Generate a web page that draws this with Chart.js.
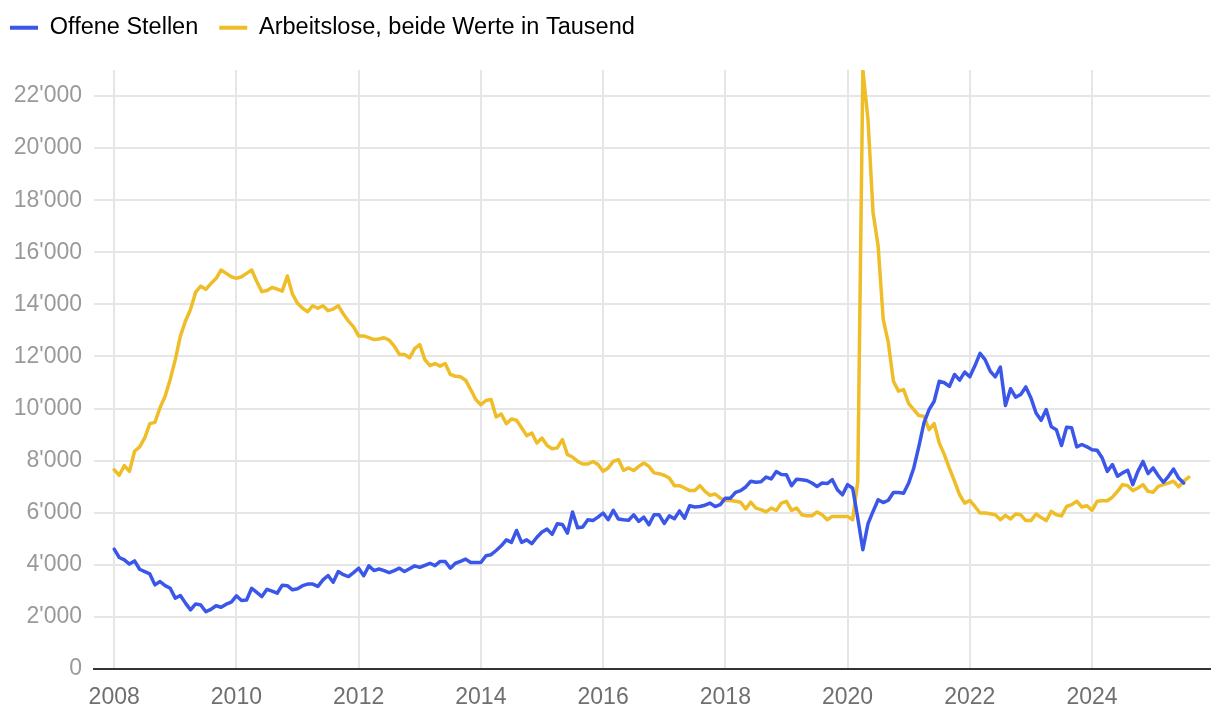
<!DOCTYPE html>
<html lang="de">
<head>
<meta charset="utf-8">
<title>Offene Stellen und Arbeitslose</title>
<script src="https://cdn.jsdelivr.net/npm/chart.js@4/dist/chart.umd.min.js"></script>
<style>
  html, body { margin: 0; padding: 0; background: #fff; }
  #wrap { width: 1220px; height: 716px; position: relative; }
</style>
</head>
<body>
<div id="wrap"><canvas id="myChart"></canvas></div>
<script>
// monthly values from Jan 2008
var startYear = 2008;
var seriesNames = ["Offene Stellen", "Arbeitslose, beide Werte in Tausend"];
var seriesColors = ['#3a57ea', '#efbd27'];

var offeneStellen = [
  4600, 4280, 4190, 4030, 4150, 3830, 3740, 3650, 3230, 3360, 3200, 3100,
  2720, 2820, 2530, 2270, 2500, 2460, 2200, 2290, 2430, 2370, 2490, 2570,
  2810, 2630, 2650, 3100, 2940, 2780, 3060, 2990, 2910, 3220, 3200, 3040,
  3080, 3200, 3260, 3260, 3170, 3420, 3590, 3330, 3740, 3620, 3550, 3700,
  3870, 3580, 3960, 3780, 3840, 3780, 3700, 3780, 3870, 3740, 3850, 3960,
  3900, 3980, 4060, 3970, 4130, 4130, 3870, 4060, 4130, 4220, 4090, 4090,
  4090, 4350, 4390, 4550, 4730, 4960, 4860, 5320, 4860, 4960, 4810, 5060,
  5260, 5370, 5170, 5580, 5550, 5220, 6030, 5420, 5450, 5730, 5700, 5830,
  5990, 5730, 6090, 5760, 5730, 5710, 5920, 5670, 5830, 5540, 5920, 5920,
  5590, 5880, 5770, 6070, 5790, 6270, 6220, 6240, 6290, 6370, 6240, 6310,
  6560, 6560, 6780, 6850, 6990, 7210, 7170, 7190, 7370, 7300, 7580, 7470,
  7460, 7040, 7290, 7270, 7240, 7140, 7010, 7140, 7120, 7270, 6880, 6690,
  7080, 6940, 5800, 4580, 5570, 6050, 6500, 6390, 6480, 6780, 6780, 6750,
  7140, 7720, 8550, 9450, 9960, 10280, 11050, 10990, 10850, 11310, 11090, 11400,
  11220, 11640, 12120, 11880, 11440, 11220, 11590, 10120, 10760, 10440, 10540, 10830,
  10410, 9830, 9550, 9960, 9300, 9190, 8580, 9280, 9260, 8530, 8620, 8530,
  8420, 8400, 8100, 7590, 7850, 7400, 7530, 7630, 7080, 7590, 7970, 7500,
  7720, 7420, 7170, 7400, 7680, 7330, 7140
];

var arbeitslose = [
  7650, 7440, 7810, 7590, 8360, 8530, 8870, 9420, 9470, 10030, 10470, 11120,
  11880, 12780, 13360, 13810, 14470, 14700, 14580, 14800, 14990, 15320, 15190, 15060,
  15000, 15060, 15190, 15320, 14880, 14490, 14530, 14650, 14590, 14510, 15090, 14400,
  14040, 13850, 13720, 13950, 13850, 13950, 13760, 13820, 13950, 13630, 13360, 13140,
  12790, 12790, 12720, 12650, 12670, 12720, 12630, 12400, 12080, 12080, 11950, 12300,
  12460, 11880, 11650, 11730, 11630, 11730, 11310, 11240, 11220, 11090, 10730, 10350,
  10150, 10310, 10350, 9680, 9790, 9420, 9600, 9550, 9260, 8960, 9060, 8680,
  8870, 8580, 8460, 8490, 8810, 8230, 8140, 7970, 7870, 7870, 7970, 7850,
  7590, 7720, 7970, 8040, 7630, 7720, 7620, 7780, 7910, 7780, 7530, 7500,
  7440, 7330, 7040, 7040, 6950, 6850, 6850, 7040, 6820, 6670, 6720, 6560,
  6470, 6470, 6440, 6400, 6150, 6410, 6180, 6120, 6030, 6180, 6090, 6370,
  6440, 6090, 6180, 5920, 5880, 5880, 6030, 5920, 5730, 5860, 5860, 5860,
  5860, 5730, 7200, 23000, 21120, 17530, 16240, 13420, 12530, 11050, 10670, 10730,
  10190, 9960, 9730, 9700, 9190, 9420, 8680, 8230, 7700, 7210, 6690, 6370,
  6470, 6240, 5990, 5990, 5960, 5920, 5730, 5900, 5760, 5950, 5920, 5700,
  5700, 5950, 5820, 5700, 6050, 5920, 5880, 6240, 6310, 6440, 6220, 6270,
  6090, 6440, 6460, 6460, 6600, 6820, 7080, 7040, 6850, 6950, 7080, 6820,
  6790, 7010, 7080, 7140, 7210, 6990, 7210, 7370
];

var yearTicks = [2008, 2010, 2012, 2014, 2016, 2018, 2020, 2022, 2024];
var valueTicks = [0, 2000, 4000, 6000, 8000, 10000, 12000, 14000, 16000, 18000, 20000, 22000];

function toPoints(values) {
  return values.map(function (v, i) {
    return { x: startYear + i / 12, y: v };
  });
}

function swissNumber(v) {
  return String(v).replace(/\B(?=(\d{3})+(?!\d))/g, "'");
}

var fontFamily = "'Liberation Sans', Arial, Helvetica, sans-serif";

// legend: fixed height and nudged to the top-left like the original
const legendSpacing = {
  id: 'legendSpacing',
  beforeInit(chart) {
    const fit = chart.legend.fit;
    chart.legend.fit = function () {
      fit.bind(this)();
      this.height = 70;
    };
  },
  afterLayout(chart) {
    chart.legend.left -= 11;
    chart.legend.top -= 5;
  }
};

new Chart("myChart", {
  type: "line",
  data: {
    datasets: [{
      label: seriesNames[0],
      data: toPoints(offeneStellen),
      borderColor: seriesColors[0],
      backgroundColor: seriesColors[0],
      borderWidth: 3.5,
      pointRadius: 0,
      borderJoinStyle: 'round',
      borderCapStyle: 'round'
    }, {
      label: seriesNames[1],
      data: toPoints(arbeitslose),
      borderColor: seriesColors[1],
      backgroundColor: seriesColors[1],
      borderWidth: 3.5,
      pointRadius: 0,
      borderJoinStyle: 'round',
      borderCapStyle: 'round'
    }]
  },
  options: {
    responsive: true,
    maintainAspectRatio: false,
    animation: false,
    devicePixelRatio: 1,
    layout: { padding: { top: 0, right: 10, bottom: 0, left: 0 } },
    plugins: {
      tooltip: { enabled: false },
      legend: {
        position: 'top',
        align: 'start',
        labels: {
          boxWidth: 28,
          boxHeight: 4,
          padding: 21,
          useBorderRadius: true,
          borderRadius: 2,
          color: '#333',
          font: { family: fontFamily, size: 23.5 },
          generateLabels: function (chart) {
            return chart.data.datasets.map(function (ds, i) {
              return {
                text: ds.label,
                fillStyle: ds.borderColor,
                strokeStyle: ds.borderColor,
                lineWidth: 0,
                hidden: false,
                datasetIndex: i
              };
            });
          }
        }
      }
    },
    scales: {
      x: {
        type: 'linear',
        min: 2007.67,
        max: 2025.93,
        afterBuildTicks: function (axis) {
          axis.ticks = yearTicks.map(function (v) { return { value: v }; });
        },
        afterFit: function (axis) { axis.height = 47; },
        ticks: {
          padding: 15,
          color: '#6f6f6f',
          font: { family: fontFamily, size: 23 },
          callback: function (v) { return String(v); }
        },
        grid: { color: '#e6e6e6', lineWidth: 2, drawTicks: false },
        border: { display: true, color: '#333', width: 2 }
      },
      y: {
        min: 0,
        max: 23000,
        afterBuildTicks: function (axis) {
          axis.ticks = valueTicks.map(function (v) { return { value: v }; });
        },
        afterFit: function (axis) { axis.width = 94; },
        ticks: {
          padding: 12,
          color: '#9a9a9a',
          font: { family: fontFamily, size: 23 },
          callback: function (v) { return swissNumber(v); }
        },
        grid: { color: '#e6e6e6', lineWidth: 2, drawTicks: false },
        border: { display: false }
      }
    }
  },
  plugins: [legendSpacing]
});
</script>
</body>
</html>
